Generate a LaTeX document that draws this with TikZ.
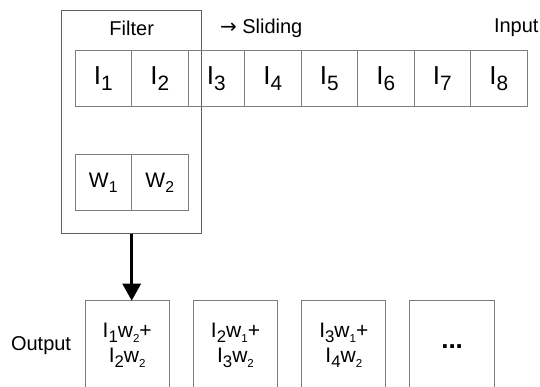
\documentclass[tikz,border=0pt]{standalone}
\usepackage{fontspec}
\setmainfont{Liberation Sans}
\newfontfamily\arrowfont{DejaVu Sans}
\usepackage{graphicx}
\usetikzlibrary{positioning,arrows.meta}

\definecolor{cellgray}{RGB}{125,125,125}
\definecolor{boxgray}{RGB}{95,95,95}
\newcommand{\subidx}[2][.8]{\raisebox{-.25em}{\scalebox{#1}{#2}}}

\begin{document}
\begin{tikzpicture}[x=1pt,y=-1pt,
                    every node/.style={inner sep=0pt,outer sep=0pt},
                    lbl/.style={font=\fontsize{20}{23}\selectfont},
                    cell/.style={draw=cellgray,line width=1pt,minimum width=56.5pt,
                                 minimum height=56pt,font=\fontsize{26}{29}\selectfont},
                    outbox/.style={draw=cellgray,line width=1pt,minimum width=84.3pt,
                                   minimum height=89.6pt,align=center,
                                   font=\fontsize{21}{25}\selectfont}]
  \useasboundingbox (0,0) rectangle (540,386);

  % Filter frame
  \node[draw=boxgray,line width=1pt,minimum width=140pt,minimum height=223.5pt] (filter) at (131.7,121.75) {};
  \node[lbl] (filtername) at (131.7,28) {Filter};
  \node[lbl,anchor=west] (sliding) at (220,28) {{\arrowfont\fontsize{20}{20}\selectfont →} Sliding};
  \node[lbl,anchor=east] (inputname) at (538.5,28) {Input};

  % Input row
  \node[cell] (in1) at (103.25,78.7) {I\subidx{1}};
  \foreach \i [count=\j from 1] in {2,...,8}
    \node[cell,right=0pt of in\j] (in\i) {I\subidx{\i}};

  % Weights
  \node[cell,font=\fontsize{21}{24}\selectfont] (w1) at (103.25,182.5) {W\subidx[.75]{1}};
  \node[cell,font=\fontsize{21}{24}\selectfont,right=0pt of w1] (w2) {W\subidx[.75]{2}};

  % Output row
  \node[outbox] (out1) at (127.2,345.5) {I\subidx{1}w\subidx[.55]{2}+\\I\subidx{2}w\subidx[.55]{2}};
  \node[outbox,right=24pt of out1] (out2) {I\subidx{2}w\subidx[.55]{1}+\\I\subidx{3}w\subidx[.55]{2}};
  \node[outbox,right=24pt of out2] (out3) {I\subidx{3}w\subidx[.55]{1}+\\I\subidx{4}w\subidx[.55]{2}};
  \node[outbox,font=\fontsize{26}{28}\selectfont,right=24pt of out3] (out4) {\raisebox{-.2em}{\textbf{...}}};
  \node[lbl,font=\fontsize{20}{22}\selectfont,left=14pt of out1] (outputname) {Output};

  \coordinate (arrowend) at (filter.south |- out1.north);
  \draw[line width=3pt,-{Triangle[width=18pt,length=17pt]}] (filter.south) -- (arrowend);
\end{tikzpicture}
\end{document}
